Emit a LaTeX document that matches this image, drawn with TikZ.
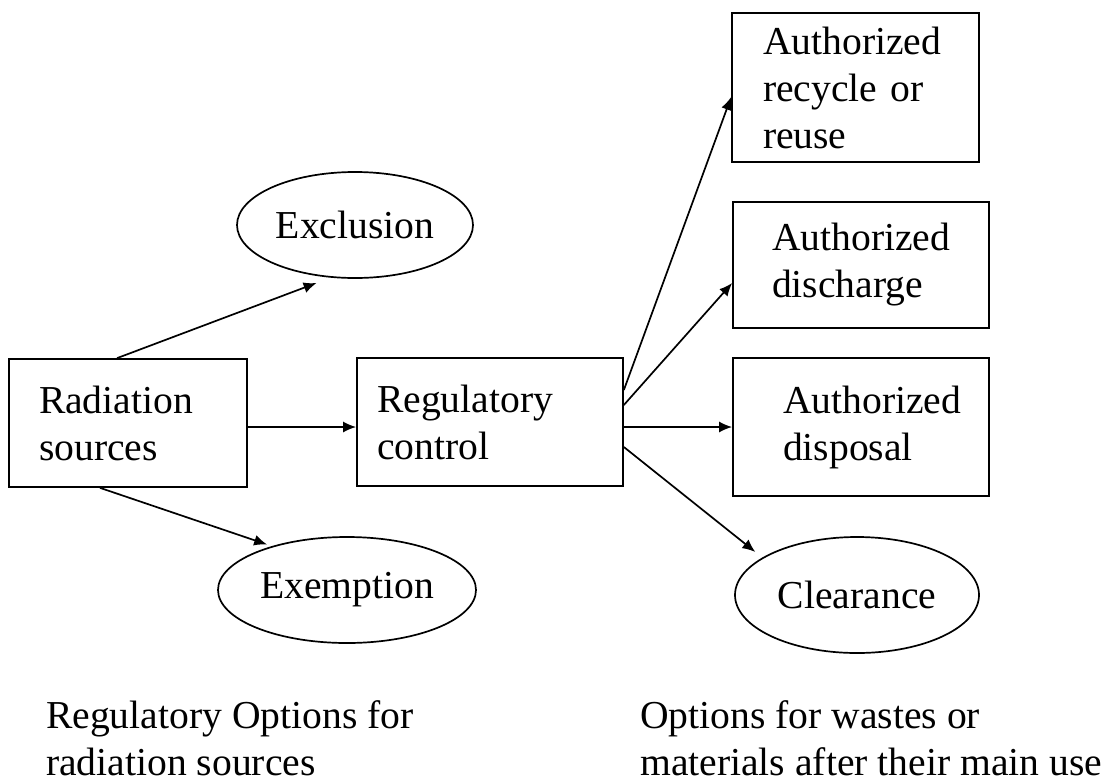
\documentclass[tikz,border=0pt]{standalone}
\usepackage{fontspec}
\setmainfont{Liberation Serif}
\usetikzlibrary{arrows.meta,shapes.geometric}

\begin{document}
\begin{tikzpicture}[x=1pt, y=-1pt,
    every node/.style={font=\fontsize{39.6}{47}\selectfont},
    box/.style={draw, rectangle, line width=1.7pt, align=left, inner ysep=0pt},
    oval/.style={draw, ellipse, line width=1.7pt, inner sep=0pt},
    arr/.style={-{Latex[length=13pt, width=11pt]}, line width=1.7pt}]
    \useasboundingbox (0,0) rectangle (1118,782);
    % left part
    \node[box, minimum width=238pt, minimum height=128pt, text width=178pt, inner xsep=30pt] (rad) at (128, 423) {Radiation\\sources};
    \node[oval, minimum width=236pt, minimum height=106pt] (excl) at (355, 225) {Exclusion};
    \node[oval, minimum width=258pt, minimum height=106pt] (exem) at (347, 590) {Exemption};
    \node[box, minimum width=266pt, minimum height=128pt, text width=226pt, inner xsep=20pt] (reg) at (490, 422) {Regulatory\\control};
    % right part
    \node[box, minimum width=247pt, minimum height=149pt, text width=185pt, inner xsep=31pt] (rec) at (855.5, 87.5) {Authorized\\recycle or\\reuse};
    \node[box, minimum width=256pt, minimum height=126pt, text width=178pt, inner xsep=39pt] (dis) at (861, 265) {Authorized\\discharge};
    \node[box, minimum width=256pt, minimum height=138pt, text width=156pt, inner xsep=50pt] (dsp) at (861, 427) {Authorized\\disposal};
    \node[oval, minimum width=244pt, minimum height=116pt] (clr) at (857, 595) {Clearance};
    % captions
    \node[anchor=north west, align=left, inner sep=0pt] (capl) at (46, 700) {Regulatory Options for\\radiation sources};
    \node[anchor=north west, align=left, inner sep=0pt] (capr) at (640, 700) {Options for wastes or\\materials after their main use};
    % arrows
    \draw[arr] ([xshift=-11pt]rad.north) -- ([yshift=-7pt]excl.233);
    \draw[arr] ([xshift=-28pt]rad.south) -- ([yshift=3pt]exem.152);
    \draw[arr] ([yshift=-4pt]rad.east) -- ([yshift=-4pt]rad.east -| reg.west);
    \draw[arr] ([yshift=32pt]reg.east) -- ([yshift=-9.5pt]rec.west);
    \draw[arr] ([yshift=17pt]reg.east) -- ([yshift=-18pt]dis.west);
    \draw[arr] (dsp.west -| reg.east) -- (dsp.west);
    \draw[arr] ([yshift=-25pt]reg.east) -- ([yshift=10pt]clr.162);
\end{tikzpicture}
\end{document}
